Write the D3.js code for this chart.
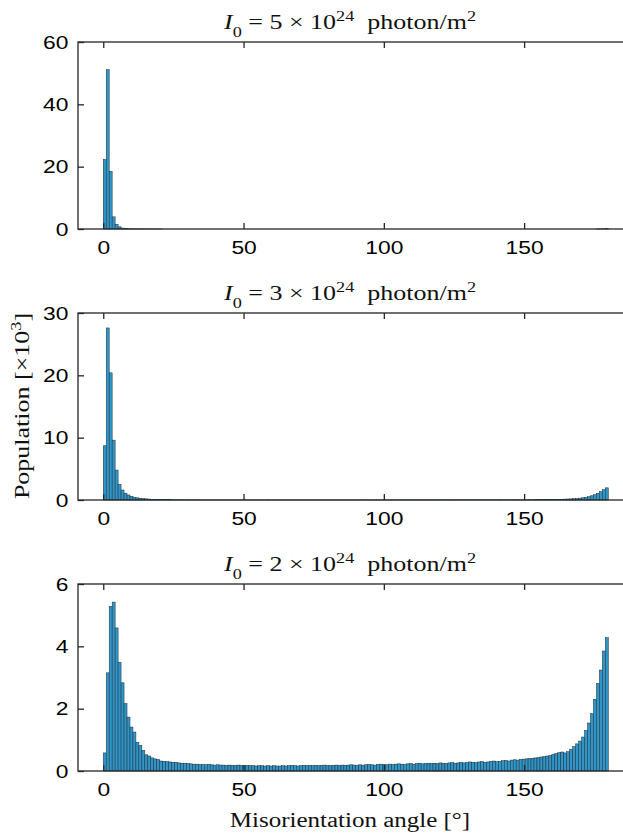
<!DOCTYPE html>
<meta charset="utf-8">
<html>
<style>
body { margin: 0; background: #fff; }
.bar { fill: #3096ca; stroke: #1d2b33; stroke-width: 0.5; }
.frame { fill: none; stroke: #262626; stroke-width: 1.3; }
.axis line { stroke: #262626; stroke-width: 1.3; }
.axis text { font-family: "Liberation Sans", Arial, sans-serif; font-size: 19px; fill: #000; }
.latex { font-family: "Liberation Serif", "Times New Roman", serif; font-size: 20px; fill: #111; white-space: pre; }
</style>
<body>
<script src="https://cdn.jsdelivr.net/npm/d3@7"></script>
<script>

var width = 623, height = 833;
var binCount = 170, angleMax = 180;
var xTicks = [0, 50, 100, 150];
var intensities = ["5", "3", "2"];
var yMax = [60, 30, 6];
var yTicks = [[0, 20, 40, 60], [0, 10, 20, 30], [0, 2, 4, 6]];

// population per bin, x10^3
var pop5 = [
  22.3, 51.1, 18.5, 3.9, 1.5, 0.7, 0.3, 0.15, 0.08, 0.05,
  0.04, 0.03, 0.03, 0.02, 0.02, 0.02, 0.01, 0.01, 0.01, 0.01,
  0, 0, 0, 0, 0, 0, 0, 0, 0, 0,
  0, 0, 0, 0, 0, 0, 0, 0, 0, 0,
  0, 0, 0, 0, 0, 0, 0, 0, 0, 0,
  0, 0, 0, 0, 0, 0, 0, 0, 0, 0,
  0, 0, 0, 0, 0, 0, 0, 0, 0, 0,
  0, 0, 0, 0, 0, 0, 0, 0, 0, 0,
  0, 0, 0, 0, 0, 0, 0, 0, 0, 0,
  0, 0, 0, 0, 0, 0, 0, 0, 0, 0,
  0, 0, 0, 0, 0, 0, 0, 0, 0, 0,
  0, 0, 0, 0, 0, 0, 0, 0, 0, 0,
  0, 0, 0, 0, 0, 0, 0, 0, 0, 0,
  0, 0, 0, 0, 0, 0, 0, 0, 0, 0,
  0, 0, 0, 0, 0, 0, 0, 0, 0, 0,
  0, 0, 0, 0, 0, 0, 0, 0, 0, 0,
  0, 0, 0, 0, 0, 0, 0.02, 0.03, 0.05, 0.1
];
var pop3 = [
  8.7, 27.6, 20.4, 9.6, 4.8, 2.5, 1.6, 1.1, 0.8, 0.6,
  0.45, 0.35, 0.28, 0.22, 0.18, 0.15, 0.12, 0.10, 0.08, 0.07,
  0.06, 0.05, 0.045, 0.04, 0.035, 0.03, 0.03, 0.025, 0.025, 0.02,
  0.02, 0.02, 0.02, 0.015, 0.02, 0.02, 0.015, 0.02, 0.015, 0.015,
  0.02, 0.015, 0.015, 0.02, 0.015, 0.015, 0.02, 0.015, 0.015, 0.015,
  0.015, 0.02, 0.015, 0.015, 0.015, 0.02, 0.015, 0.015, 0.015, 0.02,
  0.015, 0.015, 0.02, 0.015, 0.015, 0.015, 0.02, 0.015, 0.015, 0.02,
  0.015, 0.02, 0.015, 0.015, 0.02, 0.015, 0.02, 0.015, 0.02, 0.015,
  0.02, 0.015, 0.02, 0.02, 0.015, 0.02, 0.015, 0.02, 0.02, 0.015,
  0.02, 0.02, 0.015, 0.02, 0.02, 0.02, 0.015, 0.02, 0.02, 0.02,
  0.02, 0.02, 0.02, 0.025, 0.02, 0.02, 0.025, 0.02, 0.025, 0.02,
  0.025, 0.025, 0.02, 0.025, 0.025, 0.025, 0.02, 0.025, 0.025, 0.025,
  0.025, 0.03, 0.025, 0.025, 0.03, 0.025, 0.03, 0.025, 0.03, 0.03,
  0.03, 0.03, 0.025, 0.03, 0.03, 0.03, 0.03, 0.03, 0.03, 0.03,
  0.03, 0.03, 0.035, 0.04, 0.04, 0.045, 0.05, 0.055, 0.06, 0.07,
  0.08, 0.09, 0.1, 0.11, 0.12, 0.14, 0.16, 0.18, 0.21, 0.25,
  0.3, 0.36, 0.44, 0.54, 0.68, 0.85, 1.08, 1.35, 1.65, 1.95
];
var pop2 = [
  0.58, 3.15, 5.28, 5.42, 4.59, 3.49, 2.83, 2.16, 1.73, 1.41,
  1.25, 0.92, 0.82, 0.66, 0.52, 0.48, 0.42, 0.39, 0.37, 0.32,
  0.31, 0.30, 0.29, 0.28, 0.28, 0.26, 0.25, 0.25, 0.24, 0.23,
  0.22, 0.22, 0.21, 0.21, 0.20, 0.21, 0.20, 0.19, 0.20, 0.19,
  0.19, 0.18, 0.19, 0.18, 0.18, 0.19, 0.18, 0.17, 0.18, 0.17,
  0.17, 0.16, 0.17, 0.17, 0.16, 0.17, 0.16, 0.17, 0.16, 0.16,
  0.17, 0.16, 0.17, 0.18, 0.17, 0.16, 0.17, 0.18, 0.17, 0.18,
  0.17, 0.18, 0.17, 0.18, 0.19, 0.18, 0.17, 0.18, 0.19, 0.18,
  0.19, 0.18, 0.19, 0.20, 0.19, 0.18, 0.20, 0.19, 0.20, 0.21,
  0.20, 0.19, 0.21, 0.22, 0.21, 0.20, 0.22, 0.21, 0.22, 0.23,
  0.22, 0.21, 0.23, 0.24, 0.22, 0.24, 0.25, 0.23, 0.24, 0.25,
  0.24, 0.25, 0.24, 0.26, 0.25, 0.24, 0.26, 0.27, 0.25, 0.26,
  0.28, 0.26, 0.27, 0.29, 0.28, 0.27, 0.29, 0.30, 0.28, 0.29,
  0.31, 0.32, 0.30, 0.31, 0.33, 0.34, 0.32, 0.35, 0.36, 0.35,
  0.37, 0.38, 0.39, 0.40, 0.41, 0.42, 0.43, 0.45, 0.46, 0.48,
  0.50, 0.53, 0.56, 0.59, 0.61, 0.58, 0.62, 0.70, 0.78, 0.87,
  0.96, 1.09, 1.30, 1.54, 1.84, 2.30, 2.81, 3.24, 3.85, 4.28
];
var series = [pop5, pop3, pop2];

var binWidth = angleMax / binCount;
var panelTop = [42, 313, 584], panelH = 187;
var left = 78, right = 624;
var sx = 1.2;  // glyphs in the reference are a bit wide

var svg = d3.select("body").append("svg")
    .attr("width", width)
    .attr("height", height);

var x = d3.scaleLinear().domain([-9, 185.6]).range([left, right]);

series.forEach(function(vals, p) {
  var top = panelTop[p];
  var y = d3.scaleLinear().domain([0, yMax[p]]).range([top + panelH, top]);
  var g = svg.append("g");

  // bars
  g.selectAll(".bar")
    .data(vals)
    .enter().append("rect")
    .attr("class", "bar")
    .attr("x", function(d, i) { return x(i * binWidth); })
    .attr("width", function(d, i) { return x((i + 1) * binWidth) - x(i * binWidth); })
    .attr("y", function(d) { return y(d); })
    .attr("height", function(d) { return y(0) - y(d); });

  // axes, ticks inward
  var xb = g.append("g").attr("class", "axis")
    .attr("transform", "translate(0," + (top + panelH) + ")")
    .call(d3.axisBottom(x).tickValues(xTicks).tickSize(-6).tickPadding(12));
  xb.selectAll("text").attr("transform", "scale(" + sx + ",1)");
  g.append("g").attr("class", "axis")
    .attr("transform", "translate(0," + top + ")")
    .call(d3.axisTop(x).tickValues(xTicks).tickSize(-6).tickFormat(""));
  var yl = g.append("g").attr("class", "axis")
    .attr("transform", "translate(" + left + ",0)")
    .call(d3.axisLeft(y).tickValues(yTicks[p]).tickFormat(d3.format("d")).tickSize(-6).tickPadding(8));
  yl.selectAll("text").attr("transform", "scale(" + sx + ",1)");
  g.selectAll(".axis .domain").remove();

  g.append("rect").attr("class", "frame")
    .attr("x", left).attr("y", top)
    .attr("width", right - left).attr("height", panelH);

  // title
  var t = g.append("text").attr("class", "latex")
    .attr("text-anchor", "middle")
    .attr("transform", "translate(" + ((left + 622) / 2) + "," + (top - 13) + ") scale(1.3,1)");
  t.append("tspan").attr("font-style", "italic").text("I");
  t.append("tspan").attr("baseline-shift", "sub").attr("font-size", "70%").text("0");
  t.append("tspan").text(" = " + intensities[p] + " \u00d7 10");
  t.append("tspan").attr("baseline-shift", "super").attr("font-size", "70%").text("24");
  t.append("tspan").text("  photon/m");
  t.append("tspan").attr("baseline-shift", "super").attr("font-size", "70%").text("2");
});

// axis labels
svg.append("text").attr("class", "latex")
  .attr("text-anchor", "middle")
  .attr("transform", "translate(350,827) scale(1.25,1)")
  .text("Misorientation angle [\u00b0]");

var ylab = svg.append("text").attr("class", "latex")
  .attr("text-anchor", "middle")
  .attr("transform", "translate(29,406) rotate(-90) scale(1.3,1)");
ylab.append("tspan").text("Population [\u00d710");
ylab.append("tspan").attr("baseline-shift", "super").attr("font-size", "70%").text("3");
ylab.append("tspan").text("]");

</script>
</body>
</html>
